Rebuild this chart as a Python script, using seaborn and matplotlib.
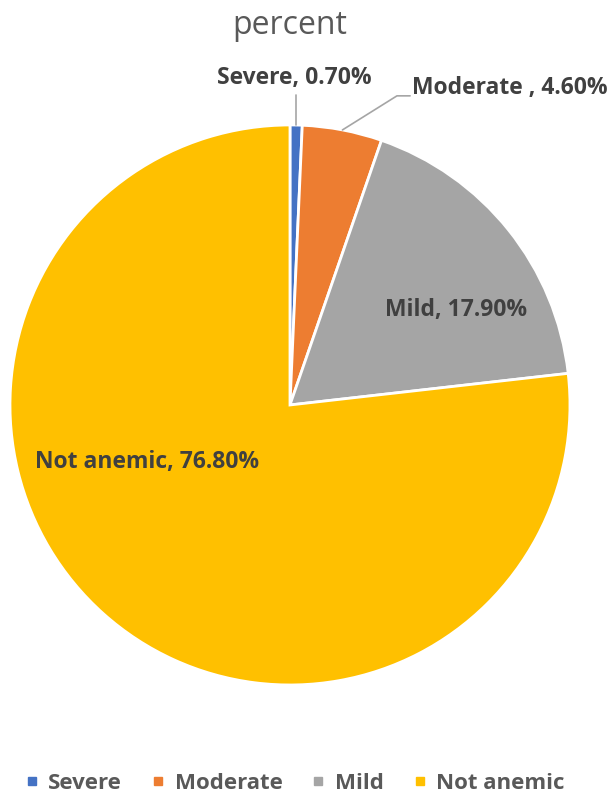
import matplotlib
matplotlib.use("Agg")
import matplotlib.pyplot as plt
import numpy as np
import seaborn as sns
from matplotlib.lines import Line2D

categories = ["Severe", "Moderate", "Mild", "Not anemic"]
percents = [0.7, 4.6, 17.9, 76.8]
label_texts = ["Severe, 0.70%", "Moderate , 4.60%", "Mild, 17.90%", "Not anemic, 76.80%"]
colors = ["#4472C4", "#ED7D31", "#A5A5A5", "#FFC000"]

sns.set_theme(style="white")
plt.rcParams["font.family"] = ["Open Sans", "DejaVu Sans"]

text_color = "#404040"

fig = plt.figure(figsize=(6.13, 7.95), dpi=100)
ax = fig.add_axes([0.0163, 0.1384, 0.9135, 0.7044])
wedges, _ = ax.pie(percents, colors=colors, startangle=90, counterclock=False,
                   wedgeprops={"edgecolor": "white", "linewidth": 2})
ax.set_xlim(-1, 1)
ax.set_ylim(-1, 1)
ax.set_aspect("auto")
ax.axis("off")

# label positions (pie units) and leader lines
label_pos = [(0.014, 1.168), (0.436, 1.132), (0.593, 0.339), (-0.509, -0.204)]
label_ha = ["center", "left", "center", "center"]
for txt, (x, y), ha in zip(label_texts, label_pos, label_ha):
    ax.text(x, y, txt, ha=ha, va="center", fontsize=16.5, fontweight="bold",
            color=text_color, clip_on=False)

cum = np.cumsum([0] + percents)
mid = [90 - (cum[i] + percents[i] / 2) * 3.6 for i in range(len(percents))]
a = np.radians(mid[0])
ax.plot([np.cos(a), np.cos(a)], [np.sin(a), 1.107], color="#A5A5A5", lw=1.2, clip_on=False)
a = np.radians(mid[1])
ax.plot([np.cos(a), 0.382, 0.429], [np.sin(a), 1.104, 1.104], color="#A5A5A5", lw=1.2,
        clip_on=False)

fig.text(0.473, 0.968, "percent", ha="center", va="center", fontsize=23, color="#595959")

handles = [Line2D([0], [0], marker="s", linestyle="none", markersize=6,
                  markerfacecolor=c, markeredgecolor=c) for c in colors]
leg = fig.legend(handles, categories, loc="center", bbox_to_anchor=(0.482, 0.015),
                 ncol=4, frameon=False, handletextpad=0.5, columnspacing=1.36,
                 handlelength=0.5, prop={"size": 16, "weight": "bold"})
for t in leg.get_texts():
    t.set_color("#595959")

fig.savefig("out.png", dpi=100)
